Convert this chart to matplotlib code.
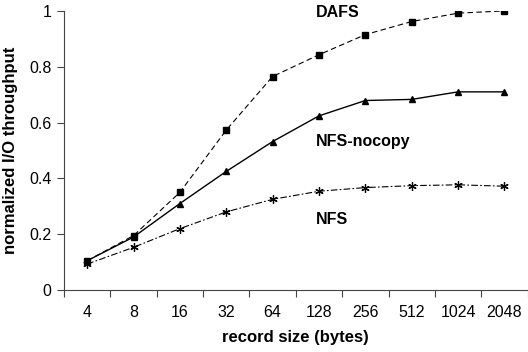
import numpy as np
import matplotlib.pyplot as plt

plt.rcParams['font.family'] = ['Liberation Sans', 'DejaVu Sans']

sizes = ["4", "8", "16", "32", "64", "128", "256", "512", "1024", "2048"]
dafs = [0.105, 0.195, 0.35, 0.573, 0.765, 0.843, 0.915, 0.962, 0.992, 1.0]
nocopy = [0.105, 0.19, 0.31, 0.425, 0.532, 0.624, 0.679, 0.683, 0.71, 0.71]
nfs = [0.093, 0.153, 0.22, 0.28, 0.325, 0.354, 0.367, 0.374, 0.377, 0.372]

fig = plt.figure(figsize=(5.28, 3.52), dpi=100)
ax = fig.add_axes([0.1212, 0.176, 0.878, 0.793])

x = np.arange(len(sizes))
ax.plot(x, dafs, color="black", lw=0.8, ls=(0, (5, 3)), marker="s", ms=4.5)
ax.plot(x, nocopy, color="black", lw=1.0, ls="-", marker="^", ms=4.5)
ax.plot(x, nfs, color="black", lw=0.8, ls=(0, (6, 2, 1.5, 2)), marker=(6, 2, 0), ms=6, mew=0.9)

ax.text(4.93, 0.995, "DAFS", fontsize=11.5, fontweight="bold", va="center", ha="left")
ax.text(4.93, 0.532, "NFS-nocopy", fontsize=11.5, fontweight="bold", va="center", ha="left")
ax.text(4.93, 0.254, "NFS", fontsize=11.5, fontweight="bold", va="center", ha="left")

ax.set_xlim(-0.5, len(sizes) - 0.5)
ax.set_ylim(0, 1)
ax.set_yticks([0, 0.2, 0.4, 0.6, 0.8, 1])
ax.set_yticklabels(["0", "0.2", "0.4", "0.6", "0.8", "1"])
ax.set_xticks(x)
ax.set_xticklabels(sizes)
ax.set_xticks(np.arange(-0.5, len(sizes) - 0.4, 1), minor=True)
ax.tick_params(axis="x", which="major", length=0, pad=11, labelsize=11.5)
ax.tick_params(axis="x", which="minor", length=5, width=0.8, direction="out", color="#444444")
ax.tick_params(axis="y", length=5, width=0.8, direction="out", color="#444444", labelsize=11.5, pad=4)

for s in ["top", "right"]:
    ax.spines[s].set_visible(False)
for s in ["left", "bottom"]:
    ax.spines[s].set_color("#444444")
    ax.spines[s].set_linewidth(0.8)

ax.set_xlabel("record size (bytes)", fontsize=12, fontweight="bold", labelpad=7)
ax.set_ylabel("normalized I/O throughput", fontsize=12, fontweight="bold", labelpad=8)

fig.savefig("out.png", dpi=100)
